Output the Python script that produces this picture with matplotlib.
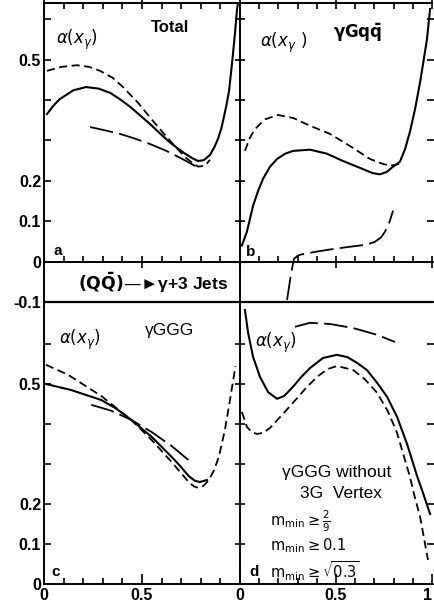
import matplotlib
matplotlib.use("Agg")
import matplotlib.pyplot as plt
from matplotlib.ticker import FixedLocator, MultipleLocator

plt.rcParams['font.family'] = ['Liberation Sans', 'DejaVu Sans']
plt.rcParams['mathtext.fontset'] = 'dejavusans'

# ---------------- data ----------------
# panel a : Total
a_solid_x = [0.015, 0.05, 0.08, 0.15, 0.214, 0.28, 0.34, 0.39, 0.44, 0.49, 0.54, 0.59, 0.64, 0.68, 0.72, 0.76, 0.786, 0.815, 0.847, 0.868, 0.888, 0.905, 0.918, 0.932, 0.944, 0.959, 0.974, 0.985, 0.995]
a_solid_y = [0.365, 0.387, 0.402, 0.424, 0.432, 0.428, 0.417, 0.401, 0.383, 0.362, 0.341, 0.318, 0.296, 0.281, 0.267, 0.255, 0.249, 0.251, 0.264, 0.282, 0.304, 0.330, 0.358, 0.390, 0.422, 0.489, 0.563, 0.625, 0.66]
a_dash_x = [0.015, 0.09, 0.168, 0.23, 0.286, 0.35, 0.403, 0.48, 0.556, 0.643, 0.719, 0.76, 0.786, 0.82, 0.847]
a_dash_y = [0.472, 0.482, 0.486, 0.482, 0.472, 0.455, 0.432, 0.393, 0.348, 0.299, 0.259, 0.243, 0.235, 0.237, 0.252]
a_long_x = [0.235, 0.31, 0.388, 0.46, 0.541, 0.62, 0.694, 0.74, 0.77, 0.80]
a_long_y = [0.333, 0.325, 0.316, 0.305, 0.291, 0.275, 0.257, 0.245, 0.237, 0.234]

# panel b : gamma G q qbar
b_solid_x = [0.010, 0.036, 0.068, 0.095, 0.120, 0.155, 0.193, 0.235, 0.276, 0.365, 0.453, 0.536, 0.625, 0.690, 0.729, 0.765, 0.797, 0.833, 0.860, 0.885, 0.912, 0.938, 0.956, 0.974, 0.990]
b_solid_y = [0.040, 0.074, 0.138, 0.176, 0.205, 0.234, 0.254, 0.267, 0.274, 0.277, 0.267, 0.249, 0.232, 0.219, 0.216, 0.222, 0.235, 0.247, 0.279, 0.321, 0.378, 0.444, 0.497, 0.551, 0.625]
b_dash_x = [0.026, 0.05, 0.078, 0.13, 0.198, 0.28, 0.365, 0.469, 0.573, 0.677, 0.73, 0.781, 0.833]
b_dash_y = [0.274, 0.305, 0.328, 0.352, 0.363, 0.355, 0.336, 0.316, 0.286, 0.254, 0.244, 0.237, 0.242]
b_long_x = [0.245, 0.266, 0.281, 0.30, 0.313, 0.39, 0.469, 0.56, 0.661, 0.703, 0.735, 0.755, 0.778, 0.797]
b_long_y = [-0.095, -0.030, 0.007, 0.014, 0.017, 0.024, 0.030, 0.036, 0.042, 0.049, 0.060, 0.074, 0.097, 0.126]

# panel c : gamma GGG
c_solid_x = [0.010, 0.138, 0.292, 0.37, 0.446, 0.549, 0.651, 0.70, 0.738, 0.77, 0.795, 0.831]
c_solid_y = [0.500, 0.485, 0.460, 0.438, 0.410, 0.368, 0.318, 0.292, 0.270, 0.258, 0.255, 0.260]
c_dash_x = [0.010, 0.123, 0.292, 0.446, 0.549, 0.651, 0.70, 0.738, 0.765, 0.790, 0.815, 0.841, 0.868, 0.892, 0.923, 0.949, 0.977]
c_dash_y = [0.548, 0.523, 0.470, 0.410, 0.360, 0.305, 0.277, 0.255, 0.244, 0.240, 0.246, 0.260, 0.285, 0.318, 0.385, 0.460, 0.545]
c_long_x = [0.241, 0.344, 0.446, 0.549, 0.651, 0.754]
c_long_y = [0.448, 0.433, 0.410, 0.380, 0.345, 0.303]

# panel d : gamma GGG without 3G vertex
d_solid_x = [0.026, 0.042, 0.068, 0.104, 0.146, 0.193, 0.23, 0.276, 0.32, 0.365, 0.432, 0.505, 0.56, 0.609, 0.661, 0.714, 0.766, 0.818, 0.870, 0.901, 0.922, 0.953, 0.990]
d_solid_y = [0.685, 0.628, 0.568, 0.518, 0.480, 0.463, 0.470, 0.493, 0.518, 0.540, 0.565, 0.573, 0.567, 0.553, 0.535, 0.503, 0.468, 0.418, 0.350, 0.303, 0.270, 0.228, 0.175]
d_dash_x = [0.010, 0.036, 0.06, 0.089, 0.12, 0.156, 0.21, 0.276, 0.34, 0.401, 0.455, 0.505, 0.589, 0.65, 0.714, 0.77, 0.818, 0.85, 0.885, 0.91, 0.938, 0.979]
d_dash_y = [0.430, 0.393, 0.380, 0.375, 0.378, 0.390, 0.418, 0.453, 0.488, 0.518, 0.537, 0.545, 0.535, 0.512, 0.478, 0.432, 0.378, 0.325, 0.268, 0.218, 0.168, 0.060]
d_long_x = [0.286, 0.365, 0.469, 0.589, 0.714, 0.807]
d_long_y = [0.643, 0.653, 0.650, 0.640, 0.623, 0.605]

y_tick_vals = [0.0, 0.1, 0.2, 0.3, 0.4, 0.5, 0.6]
y_tick_labels = ['0', '0.1', '0.2', '', '', '0.5', '']
x_major = [0.0, 0.5, 1.0]
x_labels_left = ['0', '0.5', '']
x_labels_right = ['0', '0.5', '1']

# ---------------- figure ----------------
W, H = 435, 612
fig = plt.figure(figsize=(W / 100, H / 100), dpi=100)

def px_ax(x0, x1, ytop, ybot):
    return fig.add_axes([x0 / W, 1 - ybot / H, (x1 - x0) / W, (ybot - ytop) / H])

L, M, R = 44, 240, 432
axA = px_ax(L, M, 3, 302)
axB = px_ax(M, R, 3, 302)
axC = px_ax(L, M, 302, 584)
axD = px_ax(M, R, 302, 584)

SOLID = dict(color='black', lw=1.5, ls='-')
DASH = dict(color='black', lw=1.3, ls=(0, (4.5, 2.5)))
LONG = dict(color='black', lw=1.3, ls=(0, (13, 3.5)))

data = {
    axA: [(a_solid_x, a_solid_y), (a_dash_x, a_dash_y), (a_long_x, a_long_y)],
    axB: [(b_solid_x, b_solid_y), (b_dash_x, b_dash_y), (b_long_x, b_long_y)],
    axC: [(c_solid_x, c_solid_y), (c_dash_x, c_dash_y), (c_long_x, c_long_y)],
    axD: [(d_solid_x, d_solid_y), (d_dash_x, d_dash_y), (d_long_x, d_long_y)],
}
for ax, series in data.items():
    for (xs, ys), st in zip(series, [SOLID, DASH, LONG]):
        ax.plot(xs, ys, solid_joinstyle='round', dash_joinstyle='round', **st)
    ax.set_xlim(0, 1)
    for sp in ax.spines.values():
        sp.set_linewidth(1.4)
    ax.spines['right'].set_visible(False)
    ax.patch.set_alpha(0)

TL = dict(fontsize=11.5, fontweight='bold')

# top panels
for ax in (axA, axB):
    ax.set_ylim(-0.1, 0.64)
    ax.spines['bottom'].set_position(('data', 0))
    ax.xaxis.set_major_locator(FixedLocator(x_major))
    ax.xaxis.set_minor_locator(MultipleLocator(0.1))
    ax.tick_params(axis='x', which='major', direction='inout', length=9, width=1.2,
                   top=True, bottom=True, labelbottom=False)
    ax.tick_params(axis='x', which='minor', direction='in', length=4.5, width=1.2,
                   top=True, bottom=True)
    ax.set_yticks([-0.1] + y_tick_vals)
for ax in (axC, axD):
    ax.set_ylim(0, 0.705)
    ax.spines['top'].set_linewidth(1.6)
    ax.xaxis.set_major_locator(FixedLocator(x_major))
    ax.xaxis.set_minor_locator(MultipleLocator(0.1))
    ax.tick_params(axis='x', which='major', direction='in', length=7, width=1.2,
                   top=False, pad=3)
    ax.tick_params(axis='x', which='minor', direction='in', length=4.5, width=1.2, top=False)
    ax.set_yticks(y_tick_vals)

axA.set_yticklabels(['-0.1'] + y_tick_labels, **TL)
axC.set_yticklabels(y_tick_labels, **TL)
axC.set_xticklabels(x_labels_left, **TL)
d_labels = axD.set_xticklabels(x_labels_right, **TL)
d_labels[-1].set_horizontalalignment('right')
for ax in (axA, axC):
    ax.tick_params(axis='y', direction='in', length=5, width=1.2, pad=2)
for ax in (axB, axD):
    ax.tick_params(axis='y', direction='inout', length=7, width=1.2, right=True,
                   labelleft=False)

# ---------------- texts ----------------
def ftext(px, py, s, **kw):
    fig.text(px / W, 1 - py / H, s, **kw)

C = dict(ha='center', va='center')
ftext(77, 40, r'$\alpha(x_{\gamma})$', fontsize=12, **C)
ftext(170, 28, 'Total', fontsize=12, fontweight='bold', **C)
ftext(58, 251, 'a', fontsize=11, fontweight='bold', **C)

ftext(284, 43, r'$\alpha(x_{\gamma}\ )$', fontsize=12, **C)
ftext(358, 33, r'$\mathbf{\gamma Gq\bar{q}}$', fontsize=12, **C)
ftext(251, 252, 'b', fontsize=11, fontweight='bold', **C)

ftext(153, 283, r'$\mathbf{(Q\bar{Q})}$—►γ+3 Jets', fontsize=12.5, fontweight='bold', **C)

ftext(80, 340, r'$\alpha(x_{\gamma})$', fontsize=12, **C)
ftext(170, 330, 'γGGG', fontsize=12.5, **C)
ftext(56, 572, 'c', fontsize=11, fontweight='bold', **C)

ftext(276, 343, r'$\alpha(x_{\gamma})$', fontsize=12, **C)
ftext(337, 472, 'γGGG without', fontsize=12.5, **C)
ftext(341, 493, '3G  Vertex', fontsize=12.5, **C)
ftext(270, 521, r'$\mathrm{m}_{\mathrm{min}} \geq \frac{2}{9}$', fontsize=10.5, ha='left', va='center')
ftext(270, 546, r'$\mathrm{m}_{\mathrm{min}} \geq 0.1$', fontsize=10.5, ha='left', va='center')
ftext(270, 571, r'$\mathrm{m}_{\mathrm{min}} \geq \sqrt{0.3}$', fontsize=10.5, ha='left', va='center')
ftext(254, 572, 'd', fontsize=11, fontweight='bold', **C)

fig.savefig('out.png', dpi=100)
